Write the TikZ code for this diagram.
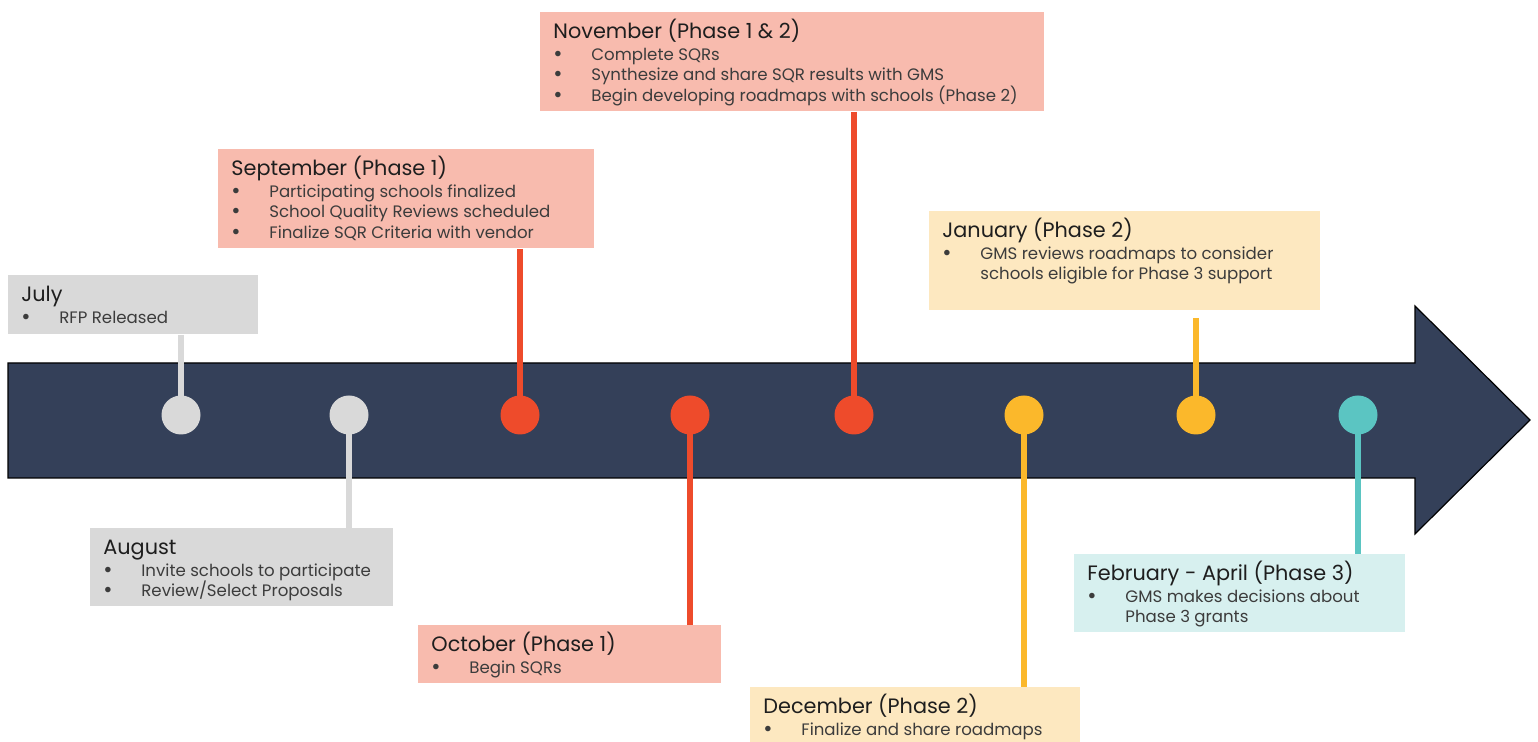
\documentclass[tikz,border=0pt]{standalone}
\usepackage{fontspec}
\setmainfont{Poppins}
\usetikzlibrary{calc,backgrounds}
\definecolor{navy}{RGB}{52,64,89}
\definecolor{gline}{RGB}{217,217,217}
\definecolor{gbox}{RGB}{217,217,217}
\definecolor{rline}{RGB}{238,75,43}
\definecolor{rbox}{RGB}{248,187,174}
\definecolor{yline}{RGB}{251,184,43}
\definecolor{ybox}{RGB}{253,232,192}
\definecolor{tline}{RGB}{91,197,194}
\definecolor{tbox}{RGB}{215,240,239}
\definecolor{txt}{RGB}{30,30,30}
\definecolor{txt2}{RGB}{60,60,60}
\tikzset{
  box/.style={fill=#1, draw=none, anchor=north west, inner sep=0pt},
  dot/.style={circle, fill=#1, draw=none, minimum size=19.5pt, inner sep=0pt},
  con/.style={draw=#1, line width=2.6pt},
  ttl/.style={anchor=base west, inner sep=0pt, text=txt, font=\fontsize{10.4}{12}\selectfont},
  itm/.style={anchor=base west, inner sep=0pt, text=txt2, font=\fontsize{8.3}{10}\selectfont},
}
\newcommand\bl{\makebox[19pt][l]{\raisebox{-0.3pt}{\scalebox{1.35}{\textbullet}}}}
\newcommand\nb{\makebox[19pt][l]{}}
\begin{document}
\begin{tikzpicture}[x=0.5pt,y=-0.5pt]
\useasboundingbox (0,0) rectangle (1538,742);
% dots
\node[dot=gline] (c1) at (181,415) {};
\node[dot=gline] (c2) at (349,415) {};
\node[dot=rline] (c3) at (520,415) {};
\node[dot=rline] (c4) at (690,415) {};
\node[dot=rline] (c5) at (854,415) {};
\node[dot=yline] (c6) at (1024,415) {};
\node[dot=yline] (c7) at (1196,415) {};
\node[dot=tline] (c8) at (1358,415) {};
% boxes
\node[box=gbox, minimum width=125pt, minimum height=29.5pt] (jul) at (8,275) {};
\node[box=gbox, minimum width=151.5pt, minimum height=39pt] (aug) at (90,528) {};
\node[box=rbox, minimum width=188pt, minimum height=49.5pt] (sep) at (218,149) {};
\node[box=rbox, minimum width=151.5pt, minimum height=29pt] (oct) at (418,625) {};
\node[box=rbox, minimum width=252pt, minimum height=49.5pt] (nov) at (540,12) {};
\node[box=ybox, minimum width=165pt, minimum height=28pt] (dec) at (750,687) {};
\node[box=ybox, minimum width=195.5pt, minimum height=49.5pt] (jan) at (929,211) {};
\node[box=tbox, minimum width=165.5pt, minimum height=39pt] (feb) at (1074,554) {};
\coordinate (janc) at (1196,318);
\begin{scope}[on background layer]
% arrow
\draw[fill=navy, draw=black, line width=0.6pt, line join=miter]
  (8,363) -- (1415,363) -- (1415,306) -- (1530,420) -- (1415,534) -- (1415,478) -- (8,478) -- cycle;
% connectors
\draw[con=gline] (jul.south -| c1) -- (c1.center);
\draw[con=gline] (c2.center) -- (aug.north -| c2);
\draw[con=rline] (sep.south -| c3) -- (c3.center);
\draw[con=rline] (c4.center) -- (oct.north -| c4);
\draw[con=rline] (nov.south -| c5) -- (c5.center);
\draw[con=yline] (c6.center) -- (dec.north -| c6);
\draw[con=yline] (janc) -- (c7.center);
\draw[con=tline] (c8.center) -- (feb.north -| c8);
\end{scope}
% texts
\node[ttl] (jul-t) at ($(jul.north west)+(13,27)$) {July};
\node[itm] (jul-1) at ($(jul.north west)+(13,48.5)$) {\bl RFP Released};

\node[ttl] (aug-t) at ($(aug.north west)+(13,27)$) {August};
\node[itm] (aug-1) at ($(aug.north west)+(13,48.5)$) {\bl Invite schools to participate};
\node[itm] (aug-2) at ($(aug.north west)+(13,69)$) {\bl Review/Select Proposals};

\node[ttl] (sep-t) at ($(sep.north west)+(13,27)$) {September (Phase 1)};
\node[itm] (sep-1) at ($(sep.north west)+(13,48.5)$) {\bl Participating schools finalized};
\node[itm] (sep-2) at ($(sep.north west)+(13,69)$) {\bl School Quality Reviews scheduled};
\node[itm] (sep-3) at ($(sep.north west)+(13,89.5)$) {\bl Finalize SQR Criteria with vendor};

\node[ttl] (oct-t) at ($(oct.north west)+(13,27)$) {October (Phase 1)};
\node[itm] (oct-1) at ($(oct.north west)+(13,48.5)$) {\bl Begin SQRs};

\node[ttl] (nov-t) at ($(nov.north west)+(13,27)$) {November (Phase 1 \& 2)};
\node[itm] (nov-1) at ($(nov.north west)+(13,48.5)$) {\bl Complete SQRs};
\node[itm] (nov-2) at ($(nov.north west)+(13,69)$) {\bl Synthesize and share SQR results with GMS};
\node[itm] (nov-3) at ($(nov.north west)+(13,89.5)$) {\bl Begin developing roadmaps with schools (Phase 2)};

\node[ttl] (dec-t) at ($(dec.north west)+(13,27)$) {December (Phase 2)};
\node[itm] (dec-1) at ($(dec.north west)+(13,48.5)$) {\bl Finalize and share roadmaps};

\node[ttl] (jan-t) at ($(jan.north west)+(13,27)$) {January (Phase 2)};
\node[itm] (jan-1) at ($(jan.north west)+(13,48.5)$) {\bl GMS reviews roadmaps to consider};
\node[itm] (jan-2) at ($(jan.north west)+(13,69)$) {\nb schools eligible for Phase 3 support};

\node[ttl] (feb-t) at ($(feb.north west)+(13,27)$) {February - April (Phase 3)};
\node[itm] (feb-1) at ($(feb.north west)+(13,48.5)$) {\bl GMS makes decisions about};
\node[itm] (feb-2) at ($(feb.north west)+(13,69)$) {\nb Phase 3 grants};
\end{tikzpicture}
\end{document}
